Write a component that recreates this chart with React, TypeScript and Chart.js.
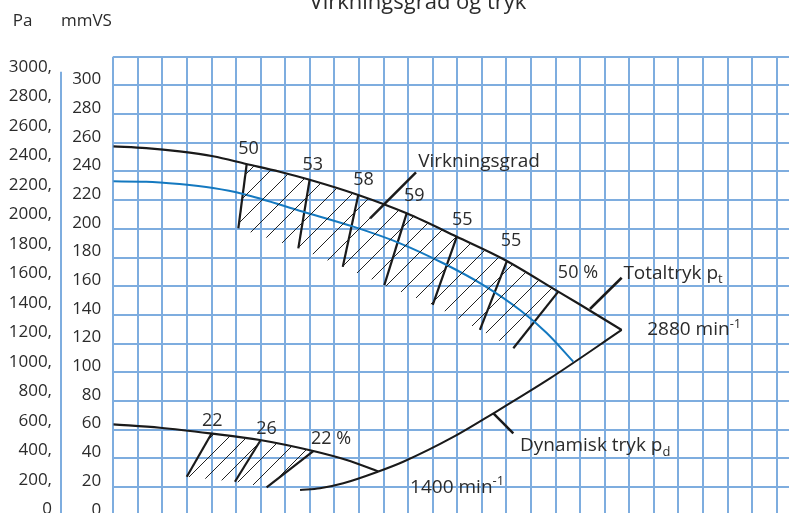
import React, { useEffect, useRef } from 'react';
import { Chart, registerables } from 'chart.js';

Chart.register(...registerables);

type P = [number, number];

// x: air volume in grid units (the reference shows no x labels), y: pressure in mmVS
const total2880: P[] = [[0, 257.5], [1.34, 256.3], [2.7, 254.0], [4.06, 250.6], [5.41, 245.2], [6.77, 239.8], [7.99, 234.2], [9.97, 223.6], [11.94, 210.8], [13.98, 194.5], [15.94, 178.3], [18.11, 156.2], [18.99, 147.2], [20.69, 129.5]];
const static2880: P[] = [[0, 233.1], [1.34, 232.9], [2.7, 231.2], [4.06, 228.4], [5.28, 224.3], [7.73, 211.9], [9.77, 201.5], [11.67, 189.9], [13.43, 176.0], [15.06, 160.8], [16.55, 143.4], [17.64, 127.4], [18.72, 107.4]];
const dynamicPressure: P[] = [[7.6, 17.9], [8.41, 19.1], [9.36, 22.6], [10.79, 30.8], [11.8, 37.6], [13.84, 54.9], [15.47, 71.4], [17.77, 95.7], [20.69, 129.5]];
const total1400: P[] = [[0, 63.7], [1.9, 61.3], [3.94, 57.4], [5.97, 52.8], [8.14, 45.1], [9.5, 38.8], [10.79, 30.8]];

const efficiency2880 = ['50', '53', '58', '59', '55', '55', '50 %'];
const eff2880Top: P[] = [[5.43, 245.2], [7.99, 234.2], [9.97, 223.6], [11.94, 210.8], [13.98, 194.5], [16.01, 177.1], [18.11, 156.2]];
const eff2880Bottom: P[] = [[5.09, 200.4], [7.53, 186.4], [9.34, 173.6], [11.03, 160.8], [13.0, 146.9], [14.92, 129.5], [16.28, 116.7]];
const eff2880LabelAt: P[] = [[5.5, 257.0], [8.12, 245.7], [10.18, 235.2], [12.25, 223.6], [14.2, 207.3], [16.19, 192.2], [18.91, 170.2]];

const efficiency1400 = ['22', '26', '22 %'];
const eff1400Top: P[] = [[4.0, 57.3], [6.0, 52.8], [8.14, 45.1]];
const eff1400Bottom: P[] = [[2.99, 27.2], [4.95, 23.7], [6.24, 19.8]];
const eff1400LabelAt: P[] = [[4.03, 67.2], [6.24, 61.3], [8.86, 54.4]];

const mmVSTicks = [0, 20, 40, 60, 80, 100, 120, 140, 160, 180, 200, 220, 240, 260, 280, 300, 320];
const paTicks = [0, 200, 400, 600, 800, 1000, 1200, 1400, 1600, 1800, 2000, 2200, 2400, 2600, 2800, 3000];
const xGridLines = [0, 1, 2, 3, 4, 5, 6, 7, 8, 9, 10, 11, 12, 13, 14, 15, 16, 17, 18, 19, 20, 21, 22, 23, 24, 25, 26, 27];

type Part = { t: string; s?: 'sub' | 'sup' };
const curveLabels: { parts: Part[]; at: P }[] = [
  { parts: [{ t: 'Virkningsgrad' }], at: [12.41, 248.0] },
  { parts: [{ t: 'Totaltryk p' }, { t: 't', s: 'sub' }], at: [20.76, 170.1] },
  { parts: [{ t: '2880 min' }, { t: '-1', s: 'sup' }], at: [21.73, 130.6] },
  { parts: [{ t: 'Dynamisk tryk p' }, { t: 'd', s: 'sub' }], at: [16.55, 50.0] },
  { parts: [{ t: '1400 min' }, { t: '-1', s: 'sup' }], at: [12.08, 20.7] },
];
const leaders: [P, P][] = [
  [[12.32, 239.4], [10.45, 207.3]],
  [[20.69, 165.9], [19.4, 144.1]],
  [[15.47, 71.4], [16.28, 57.4]],
];

const TITLE = 'Virkningsgrad og tryk';
const FONT = '"Open Sans", "Noto Sans", sans-serif';
const TEXT = '#2b2b2b';
const GRID = 'rgb(126,173,223)';
const BLUE = '#1479c0';
const BLACK = '#1a1a1a';
const CANVAS_H = 560;

const toPts = (a: P[]) => a.map(([x, y]) => ({ x, y }));

function makeHatch(s: number): CanvasPattern | string {
  const c = document.createElement('canvas');
  c.width = s;
  c.height = s;
  const g = c.getContext('2d');
  if (!g) return 'rgba(0,0,0,0.2)';
  g.strokeStyle = '#222';
  g.lineWidth = 1;
  g.beginPath();
  g.moveTo(-2, s + 2);
  g.lineTo(s + 2, -2);
  g.moveTo(-2, 2);
  g.lineTo(2, -2);
  g.moveTo(s - 2, s + 2);
  g.lineTo(s + 2, s - 2);
  g.stroke();
  return g.createPattern(c, 'repeat') || 'rgba(0,0,0,0.2)';
}

function drawRich(ctx: CanvasRenderingContext2D, parts: Part[], x: number, yc: number, size: number, align: 'left' | 'center') {
  const widths = parts.map((p) => {
    ctx.font = `${p.s ? size * 0.68 : size}px ${FONT}`;
    return ctx.measureText(p.t).width;
  });
  const total = widths.reduce((a, b) => a + b, 0);
  let cx = align === 'center' ? x - total / 2 : x;
  const base = yc + size * 0.36;
  parts.forEach((p, i) => {
    const fs = p.s ? size * 0.68 : size;
    ctx.font = `${fs}px ${FONT}`;
    const dy = p.s === 'sub' ? size * 0.25 : p.s === 'sup' ? -size * 0.4 : 0;
    ctx.fillText(p.t, cx, base + dy);
    cx += widths[i];
  });
}

const textPlugin = {
  id: 'fanText',
  afterDraw(chart: any) {
    const ctx: CanvasRenderingContext2D = chart.ctx;
    const xs = chart.scales.x;
    const ys = chart.scales.y;
    const pa = chart.scales.pa;
    ctx.save();
    // Pa axis line
    ctx.strokeStyle = GRID;
    ctx.lineWidth = 2;
    ctx.beginPath();
    ctx.moveTo(pa.right, chart.chartArea.top + 15);
    ctx.lineTo(pa.right, chart.height);
    ctx.stroke();

    ctx.fillStyle = TEXT;
    ctx.textBaseline = 'alphabetic';
    ctx.font = `22px ${FONT}`;
    ctx.textAlign = 'center';
    ctx.fillText(TITLE, 418, 9);
    ctx.textAlign = 'left';
    drawRich(ctx, [{ t: 'Pa' }], 12.7, 20, 17, 'left');
    drawRich(ctx, [{ t: 'mmVS' }], 61, 20, 17, 'left');

    efficiency2880.forEach((t, i) => {
      const [x, y] = eff2880LabelAt[i];
      drawRich(ctx, [{ t }], xs.getPixelForValue(x), ys.getPixelForValue(y), 18, 'center');
    });
    efficiency1400.forEach((t, i) => {
      const [x, y] = eff1400LabelAt[i];
      drawRich(ctx, [{ t }], xs.getPixelForValue(x), ys.getPixelForValue(y), 18, 'center');
    });
    curveLabels.forEach((l) => {
      drawRich(ctx, l.parts, xs.getPixelForValue(l.at[0]), ys.getPixelForValue(l.at[1]), 19, 'left');
    });
    ctx.restore();
  },
};

export default function App() {
  const ref = useRef<HTMLCanvasElement | null>(null);

  useEffect(() => {
    const canvas = ref.current;
    if (!canvas) return;
    const hatchA = makeHatch(21);
    const hatchB = makeHatch(18);

    const line = (data: P[], color: string, width: number, smooth = false) => ({
      data: toPts(data),
      showLine: true,
      borderColor: color,
      borderWidth: width,
      pointRadius: 0,
      fill: false,
      cubicInterpolationMode: smooth ? 'monotone' : 'default',
      tension: 0,
    });

    const hatch2880 = [...eff2880Bottom, ...[...eff2880Top].reverse()];
    const hatch1400 = [...eff1400Bottom, ...[...eff1400Top].reverse()];

    const datasets: any[] = [
      { ...line(hatch2880, 'rgba(0,0,0,0)', 0), fill: 'shape', backgroundColor: hatchA },
      { ...line(hatch1400, 'rgba(0,0,0,0)', 0), fill: 'shape', backgroundColor: hatchB },
      line(static2880, BLUE, 2, true),
      line(total2880, BLACK, 2.2, true),
      line(dynamicPressure, BLACK, 2, true),
      line(total1400, BLACK, 2.2, true),
      ...eff2880Top.map((t, i) => line([t, eff2880Bottom[i]], BLACK, 2.2)),
      ...eff1400Top.map((t, i) => line([t, eff1400Bottom[i]], BLACK, 2.2)),
      ...leaders.map((l) => line(l, BLACK, 2.5)),
    ];

    const chart = new Chart(canvas, {
      type: 'scatter',
      data: { datasets },
      options: {
        animation: false,
        responsive: false,
        events: [],
        layout: { padding: { top: 56.7, left: 0, right: 0, bottom: 0 }, autoPadding: false } as any,
        plugins: { legend: { display: false }, tooltip: { enabled: false }, title: { display: false } },
        scales: {
          x: {
            type: 'linear',
            min: 0,
            max: 27.5,
            afterBuildTicks: (s: any) => {
              s.ticks = xGridLines.map((v) => ({ value: v }));
            },
            afterFit: (s: any) => {
              s.height = CANVAS_H - 515.7;
            },
            ticks: { display: false },
            grid: { color: GRID, lineWidth: 2, drawTicks: false },
            border: { display: false },
          },
          y: {
            type: 'linear',
            position: 'left',
            weight: 0,
            min: 0,
            max: 320,
            afterBuildTicks: (s: any) => {
              s.ticks = mmVSTicks.map((v) => ({ value: v }));
            },
            afterFit: (s: any) => {
              s.width = 52.3;
            },
            ticks: {
              autoSkip: false,
              callback: (v: any) => (v === 320 ? '' : String(v)),
              padding: 12,
              labelOffset: -6,
              color: TEXT,
              font: { family: FONT, size: 17 },
            },
            grid: { color: GRID, lineWidth: 2, drawTicks: false },
            border: { display: false },
          },
          pa: {
            type: 'linear',
            position: 'left',
            weight: 1,
            min: -42,
            max: 3068,
            afterBuildTicks: (s: any) => {
              s.ticks = paTicks.map((v) => ({ value: v }));
            },
            afterFit: (s: any) => {
              s.width = 61;
            },
            ticks: {
              autoSkip: false,
              callback: (v: any) => (v === 0 ? '0' : `${v},`),
              padding: 9,
              color: TEXT,
              font: { family: FONT, size: 17 },
            },
            grid: { display: false, drawTicks: false },
            border: { display: false },
          },
        },
      } as any,
      plugins: [textPlugin],
    });
    return () => chart.destroy();
  }, []);

  return (
    <div style={{ position: 'fixed', left: 0, top: 0, width: 789, height: 513, overflow: 'hidden', background: '#fff' }}>
      <canvas ref={ref} width={789} height={CANVAS_H} style={{ display: 'block', width: 789, height: CANVAS_H }} />
    </div>
  );
}
